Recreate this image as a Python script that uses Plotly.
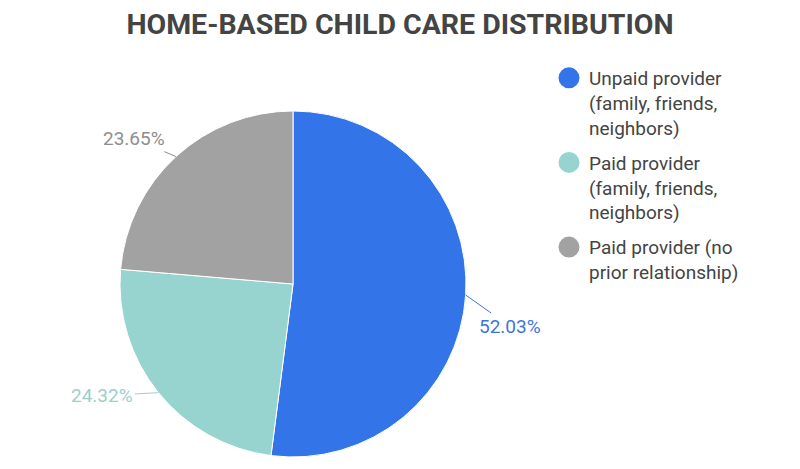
import math
import plotly.graph_objects as go

# ---- data ----
categories = [
    "Unpaid provider<br>(family, friends,<br>neighbors)",
    "Paid provider<br>(family, friends,<br>neighbors)",
    "Paid provider (no<br>prior relationship)",
]
values = [52.03, 24.32, 23.65]
colors = ["#3375e9", "#98d4cf", "#a2a2a2"]
label_colors = ["#3c76dc", "#9ccfcc", "#8e8e8e"]

W, H = 800, 469
# pie placement (pixels)
cx, cy, R = 293, 284, 173
# label offsets (pixels) from slice edge midpoint to label center
label_offsets = [(44, 31), (-56, 3), (-42, -18)]

fig = go.Figure()
fig.add_trace(go.Pie(
    values=values,
    labels=categories,
    marker=dict(colors=colors, line=dict(color="white", width=1)),
    sort=False,
    direction="clockwise",
    rotation=0,
    textinfo="none",
    hoverinfo="skip",
    showlegend=False,
    domain=dict(x=[(cx - R) / W, (cx + R) / W], y=[1 - (cy + R) / H, 1 - (cy - R) / H]),
))

# legend via dummy scatter traces (circle markers)
for i, (name, col) in enumerate(zip(categories, colors)):
    fig.add_trace(go.Scatter(
        x=[None], y=[None], mode="markers", name=name,
        marker=dict(color=col, size=16, symbol="circle", line=dict(color=col, width=6)),
        legendgroup=f"g{i}", showlegend=True,
    ))

# outside percent labels with leader lines
total = sum(values)
cum = 0
for v, lc, (dx, dy) in zip(values, label_colors, label_offsets):
    mid = (cum + v / 2) / total * 2 * math.pi
    cum += v
    px = cx + R * math.sin(mid)
    py = cy - R * math.cos(mid)
    fig.add_annotation(
        x=px / W, y=1 - py / H, xref="paper", yref="paper",
        text=f"{v:.2f}%", showarrow=True, arrowhead=0, arrowwidth=1,
        arrowcolor=lc, ax=dx, ay=dy,
        font=dict(family="Roboto", size=19, color=lc),
    )

fig.update_layout(
    width=W, height=H,
    margin=dict(l=0, r=0, t=0, b=0),
    paper_bgcolor="white", plot_bgcolor="white",
    title=dict(text="<b>HOME-BASED CHILD CARE DISTRIBUTION</b>",
               x=0.5, xanchor="center", y=1 - 24 / H, yanchor="middle",
               font=dict(family="Roboto", size=28.5, color="#444444")),
    xaxis=dict(visible=False), yaxis=dict(visible=False),
    legend=dict(x=549 / W, xanchor="left", y=1 - 59 / H, yanchor="top",
                font=dict(family="Roboto", size=19, color="#444444"),
                valign="top", tracegroupgap=7.5, itemsizing="trace",
                bgcolor="rgba(0,0,0,0)"),
    hovermode=False,
)

fig.write_html("out.html", config={"displayModeBar": False},
               post_script="document.body.style.margin='0';")
